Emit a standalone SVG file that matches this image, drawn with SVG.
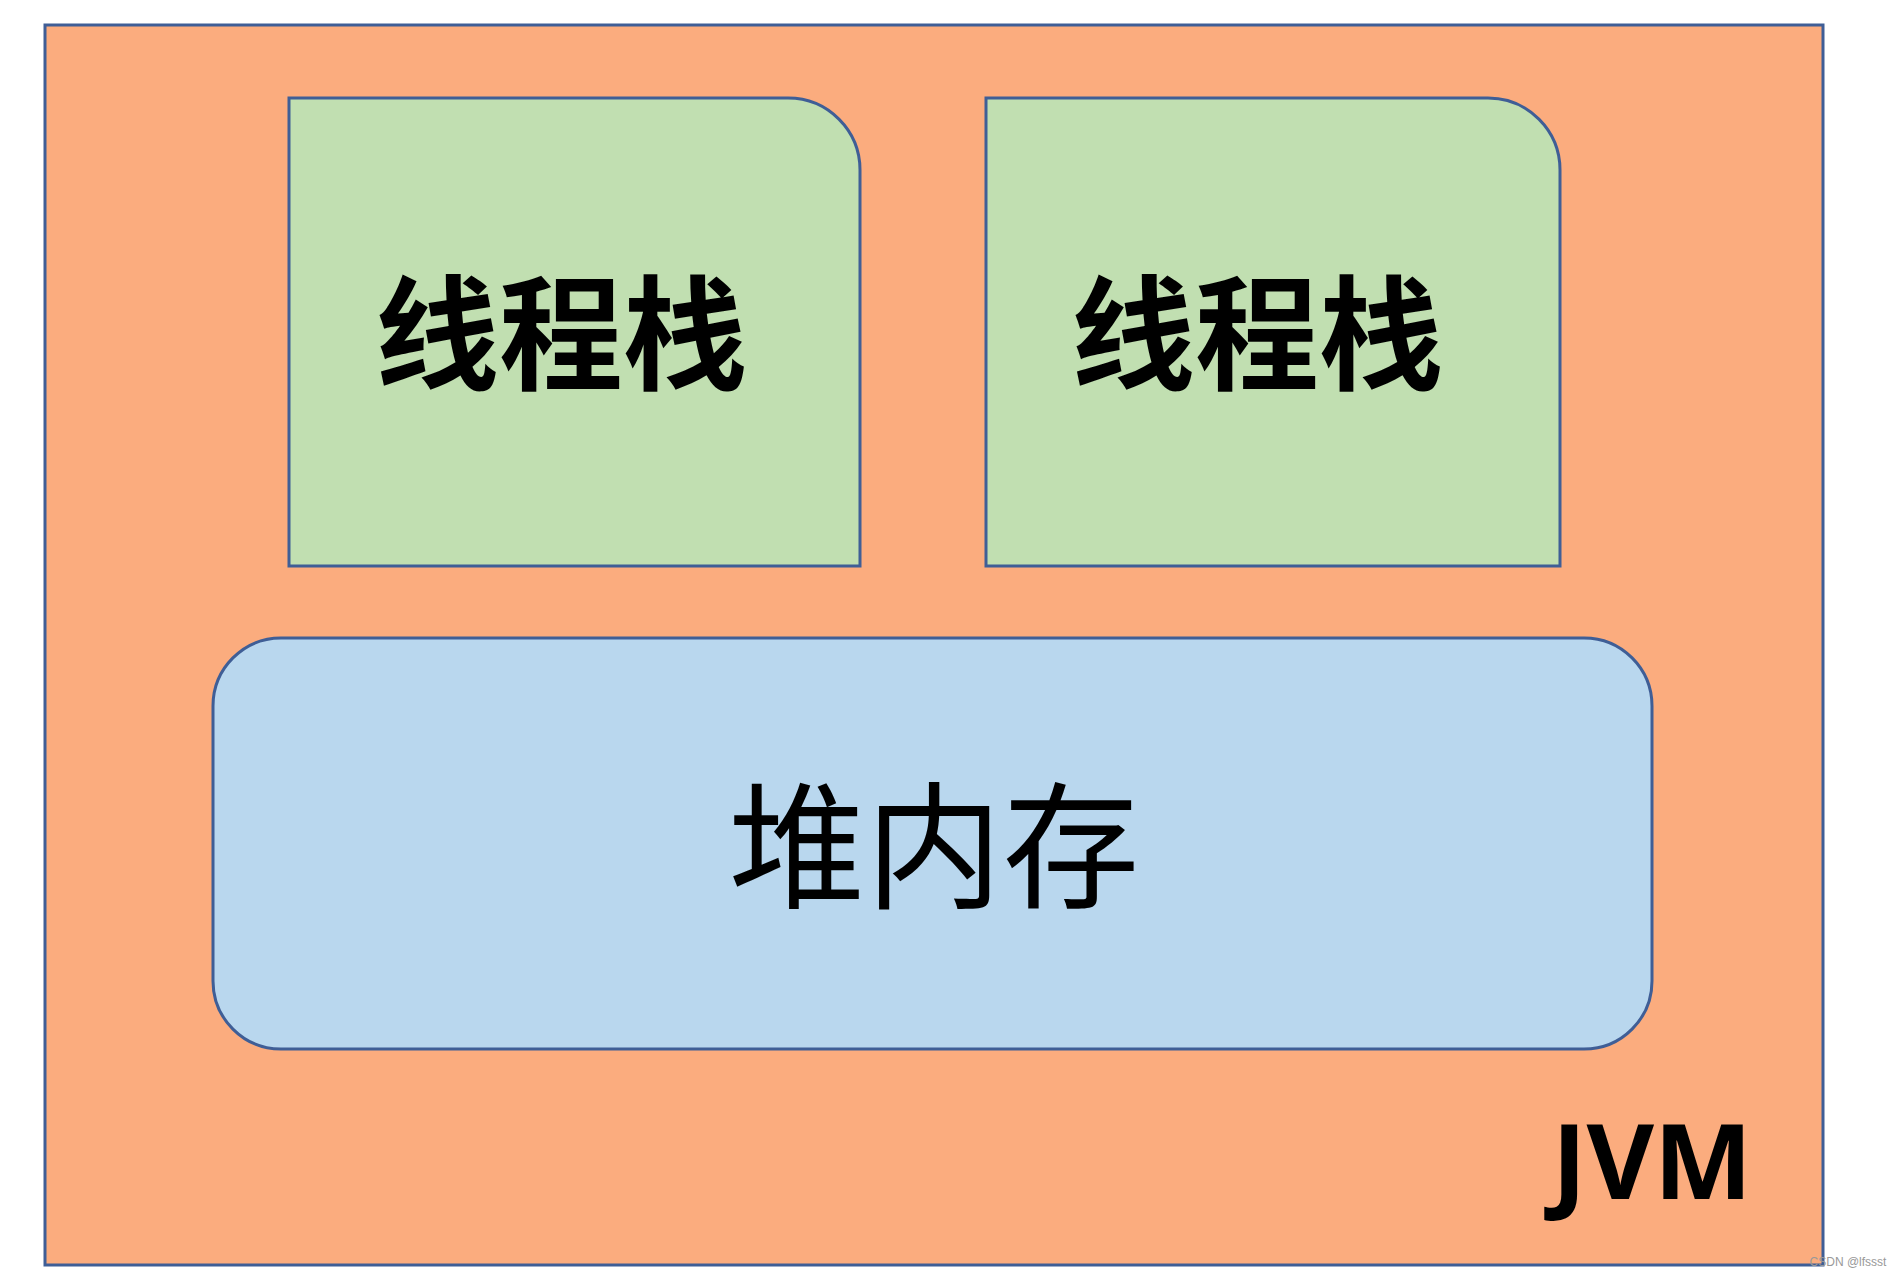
<svg xmlns="http://www.w3.org/2000/svg" width="1900" height="1276" viewBox="0 0 1900 1276">
<style>
.box{stroke:#3F5E96;stroke-width:3}
.stack{fill:#C1DFB1}
.cjkb{font-family:"Noto Sans CJK SC","Noto Sans",sans-serif;font-weight:700;font-size:124px;fill:#000}
.cjk{font-family:"Noto Sans CJK SC","Noto Sans",sans-serif;font-weight:400;font-size:137px;fill:#000}
</style>
<rect width="1900" height="1276" fill="#fff"/>
<g id="jvm">
<rect class="box" x="45" y="25" width="1778" height="1240" fill="#FBAC7E"/>
<text x="1652" y="1199" text-anchor="middle" font-family="'Open Sans',sans-serif" font-weight="700" font-size="104" fill="#000">JVM</text>
</g>
<g id="stack1">
<path class="box stack" d="M289,98 H788 A72,72 0 0 1 860,170 V566 H289 Z"/>
<text class="cjkb" x="561" y="380" text-anchor="middle">线程栈</text>
</g>
<g id="stack2">
<path class="box stack" d="M986,98 H1488 A72,72 0 0 1 1560,170 V566 H986 Z"/>
<text class="cjkb" x="1257" y="380" text-anchor="middle">线程栈</text>
</g>
<g id="heap">
<rect class="box" x="213" y="638" width="1439" height="411" rx="68" ry="68" fill="#B9D7EE"/>
<text class="cjk" x="934" y="898" text-anchor="middle">堆内存</text>
</g>
<g id="connectors"></g>
<text x="1848" y="1266" text-anchor="middle" font-family="'Liberation Sans',sans-serif" font-size="12" fill="#999">CSDN @lfssst</text>
</svg>
